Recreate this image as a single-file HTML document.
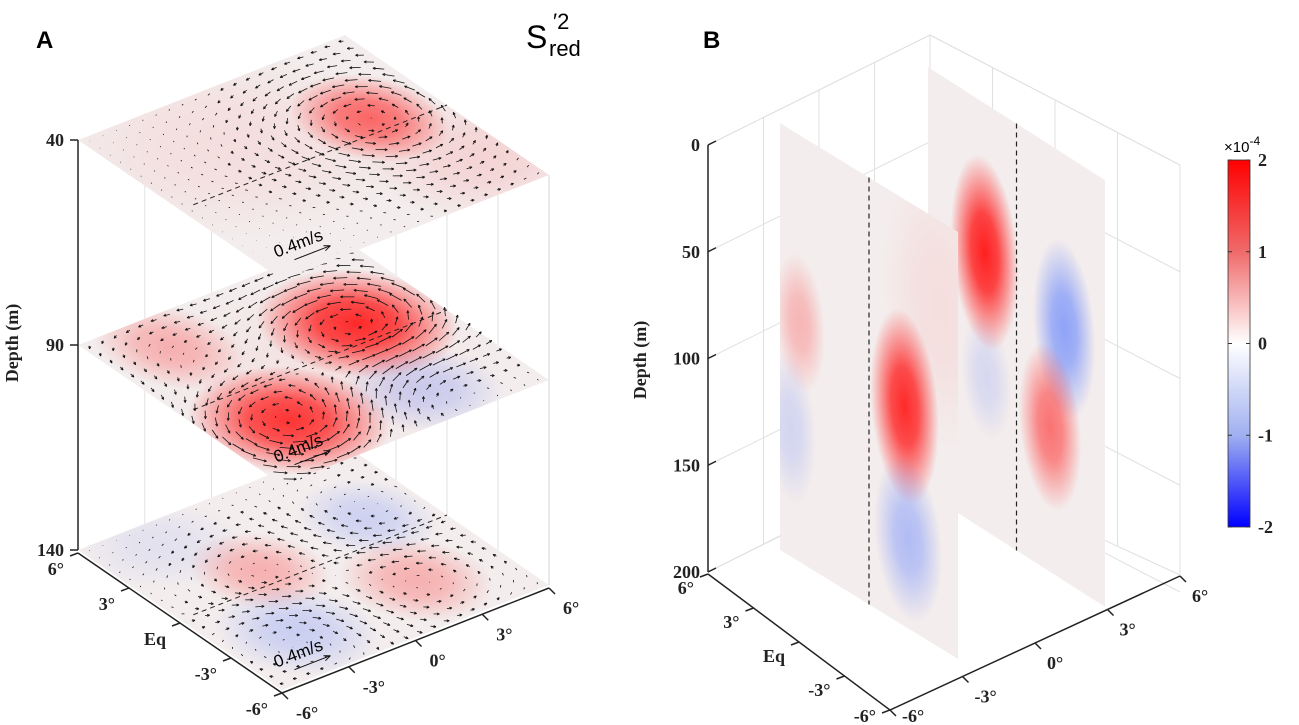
<!DOCTYPE html>
<html><head><meta charset="utf-8">
<style>
html,body{margin:0;padding:0;background:#fff;}
svg{display:block;font-family:"Liberation Serif",serif;}
.lab{font-weight:bold;font-size:18px;fill:#222;}
</style></head>
<body>
<svg id="fig" width="1299" height="725" viewBox="0 0 1299 725" xmlns="http://www.w3.org/2000/svg">
<defs id="defs">
  <linearGradient id="cbGrad" x1="0" y1="0" x2="0" y2="1">
    <stop offset="0" stop-color="#ff0000"/>
    <stop offset="0.25" stop-color="#f06a6a"/>
    <stop offset="0.5" stop-color="#ffffff"/>
    <stop offset="0.75" stop-color="#a0b0f0"/>
    <stop offset="1" stop-color="#0000ff"/>
  </linearGradient>
</defs>
<g id="panelA"></g>
<g id="panelB"></g>
<text x="36" y="48" font-family="Liberation Sans" font-weight="bold" font-size="24">A</text>
<text x="703" y="48" font-family="Liberation Sans" font-weight="bold" font-size="24">B</text>
<g font-family="Liberation Sans">
  <text x="526" y="48" font-size="32">S</text>
  <text x="553" y="29" font-size="22">′2</text>
  <text x="549" y="56" font-size="22">red</text>
</g>
</svg>
<script>
// ---------- data ----------
const depthTicksA = [40, 90, 140];
const latTicks = ["6°","3°","Eq","-3°","-6°"];
const lonTicks = ["-6°","-3°","0°","3°","6°"];
// blobs per layer: [latFrac, lonFrac, amplitude(-2..2 x1e-4), radiusLat, radiusLon]
const layer40 = [[0.42,0.77,1.3,0.15,0.12],[0.3,0.35,0.15,0.3,0.3],[0.8,0.9,0.25,0.2,0.2]];
const layer90 = [[0.40,0.74,1.9,0.18,0.16],[0.72,0.24,1.8,0.18,0.16],[0.17,0.21,0.6,0.15,0.11],[0.82,0.67,-0.5,0.14,0.13],[0.55,0.5,0.1,0.3,0.3]];
const layer140 = [[0.37,0.80,-0.45,0.13,0.11],[0.42,0.36,0.6,0.13,0.11],[0.74,0.70,0.6,0.14,0.12],[0.76,0.24,-0.5,0.15,0.13],[0.13,0.21,-0.2,0.14,0.14]];
const depthTicksB = [0, 50, 100, 150, 200];
// slice blobs: [latFrac, depth(m), amplitude, rLat, rDepth]
const slice1 = [[0.11,88,0.55,0.09,20],[0.06,140,-0.4,0.09,22],[0.70,97,1.9,0.12,28],[0.72,158,-0.8,0.12,24],[0.9,40,0.15,0.2,40]];
const slice2 = [[0.32,70,2.2,0.12,28],[0.77,82,-1.2,0.11,26],[0.69,132,1.2,0.11,24],[0.33,128,-0.35,0.09,18]];
const cbTicks = [2, 1, 0, -1, -2];

const NS = "http://www.w3.org/2000/svg";
const defs = document.getElementById('defs');
function mk(tag, attrs, parent){const e=document.createElementNS(NS,tag);for(const k in attrs)e.setAttribute(k,attrs[k]);if(parent)parent.appendChild(e);return e;}
let gid=0;
function color(a){ return a>=0 ? [255,25,25] : [70,110,255]; }
function blobGrad(a){
  const id='bg'+(gid++);
  const g=mk('radialGradient',{id:id},defs);
  const c=color(a); const op=Math.min(1,Math.abs(a)/2);
  const col=`rgb(${c[0]},${c[1]},${c[2]})`;
  mk('stop',{offset:'0','stop-color':col,'stop-opacity':(op*0.97).toFixed(3)},g);
  mk('stop',{offset:'0.4','stop-color':col,'stop-opacity':(op*0.8).toFixed(3)},g);
  mk('stop',{offset:'1','stop-color':col,'stop-opacity':'0'},g);
  return id;
}
const A = document.getElementById('panelA');
const B = document.getElementById('panelB');

// ---------- Panel A geometry ----------
const FL=[204,140], RF=[267,-105], Lx=78;
function yDepthA(d){ return 140 + (d-40)*(410/100); }
function ptA(u,w,d){ return [Lx+u*FL[0]+w*RF[0], yDepthA(d)+u*FL[1]+w*RF[1]]; }

[[0,0],[0,1],[1,1]].forEach((c,i)=>{
  const p1=ptA(c[0],c[1],40), p2=ptA(c[0],c[1],140);
  const l=mk('line',{x1:p1[0],y1:p1[1],x2:p2[0],y2:p2[1],stroke:'#d6d6d6','stroke-width':1},A);
  
  
});
[0.25,0.5,0.75].forEach(w=>{
  const p1=ptA(0,w,40), p2=ptA(0,w,140);
  mk('line',{x1:p1[0],y1:p1[1],x2:p2[0],y2:p2[1],stroke:'#e2e2e2','stroke-width':1},A);
  const q1=ptA(1-w,1,40), q2=ptA(1-w,1,140);
  mk('line',{x1:q1[0],y1:q1[1],x2:q2[0],y2:q2[1],stroke:'#e2e2e2','stroke-width':1},A);
});

function drawLayer(blobs, depth, name){
  const g=mk('g',{},A);
  
  
  const y0=yDepthA(depth);
  const inner=mk('g',{transform:`matrix(${FL[0]/100} ${FL[1]/100} ${RF[0]/100} ${RF[1]/100} ${Lx} ${y0})`},g);
  const cid='clip'+(gid++);
  const cp=mk('clipPath',{id:cid},defs); mk('rect',{x:0,y:0,width:100,height:100},cp);
  inner.setAttribute('clip-path',`url(#${cid})`);
  mk('rect',{x:0,y:0,width:100,height:100,fill:'#f3eded'},inner);
  blobs.forEach(b=>{
    const e=mk('ellipse',{cx:b[0]*100,cy:b[1]*100,rx:b[3]*100*1.8,ry:b[4]*100*1.8,fill:`url(#${blobGrad(b[2])})`},inner);
    
    
  });
  const e1=ptA(0.5,0.05,depth), e2=ptA(0.5,1,depth);
  mk('line',{x1:e1[0],y1:e1[1],x2:e2[0],y2:e2[1],stroke:'#222','stroke-width':1,'stroke-dasharray':'5,4'},g);
  const N=20;
  for(let i=0;i<N;i++)for(let j=0;j<N;j++){
    const u=(i+0.5)/N, w=(j+0.5)/N;
    let du=0, dw=0;
    blobs.forEach(b=>{
      const ru=u-b[0], rw=w-b[1];
      const s=Math.exp(-(ru*ru+rw*rw)/(0.09));
      du+= -b[2]*rw*s; dw+= b[2]*ru*s;
    });
    const sx=du*FL[0]+dw*RF[0], sy=du*FL[1]+dw*RF[1];
    const k=0.22;
    let vx=sx*k, vy=sy*k;
    const len=Math.hypot(vx,vy);
    if(len>14){vx*=14/len;vy*=14/len;}
    const p=ptA(u,w,depth);
    const x2=p[0]+vx, y2=p[1]+vy;
    mk('line',{x1:p[0],y1:p[1],x2:x2,y2:y2,stroke:'#111','stroke-width':0.8},g);
    const L2=Math.hypot(vx,vy);
    if(L2>3){
      const ux=vx/L2, uy=vy/L2, h=2.5;
      mk('path',{d:`M${x2},${y2} L${x2-h*ux+h*0.45*uy},${y2-h*uy-h*0.45*ux} M${x2},${y2} L${x2-h*ux-h*0.45*uy},${y2-h*uy+h*0.45*ux}`,stroke:'#111','stroke-width':0.8,fill:'none'},g);
    }
  }
  const r=ptA(0.93,0.1,depth);
  mk('line',{x1:r[0],y1:r[1],x2:r[0]+36,y2:r[1]-14,stroke:'#111','stroke-width':1},g);
  mk('path',{d:`M${r[0]+36},${r[1]-14} l-7,0 M${r[0]+36},${r[1]-14} l-5,5`,stroke:'#111','stroke-width':1,fill:'none'},g);
  const t=mk('text',{x:r[0]-18,y:r[1]-2,'font-family':'Liberation Sans','font-size':17,transform:`rotate(-21 ${r[0]-18} ${r[1]-2})`},g);
  t.textContent='0.4m/s';
  
  
}
drawLayer(layer140,140,'layer-140m');
drawLayer(layer90,90,'layer-90m');
drawLayer(layer40,40,'layer-40m');

mk('line',{x1:78,y1:140,x2:78,y2:yDepthA(140),stroke:'#222','stroke-width':1.5},A);
depthTicksA.forEach(d=>{
  const y=yDepthA(d);
  mk('line',{x1:70,y1:y,x2:78,y2:y,stroke:'#222','stroke-width':1.5},A);
  const t=mk('text',{x:64,y:y+6,'text-anchor':'end',class:'lab'},A);
  t.textContent=d;
  
  
});
const yt=mk('text',{x:18,y:343,'text-anchor':'middle',class:'lab',transform:'rotate(-90 18 343)'},A);
yt.textContent='Depth (m)';


(function(){
  const L=[Lx, yDepthA(140)+3], F=[L[0]+FL[0],L[1]+FL[1]], R=[F[0]+RF[0],F[1]+RF[1]];
  mk('path',{d:`M${L[0]},${L[1]} L${F[0]},${F[1]} L${R[0]},${R[1]}`,stroke:'#222','stroke-width':1.5,fill:'none'},A);
  latTicks.forEach((s,i)=>{
    const f=i/4, x=L[0]+f*FL[0], y=L[1]+f*FL[1];
    mk('line',{x1:x,y1:y,x2:x-8,y2:y+3,stroke:'#222','stroke-width':1.5},A);
    const t=mk('text',{x:x-14,y:Math.min(y+22,721),'text-anchor':'end',class:'lab'},A);
    t.textContent=s;
    
    
  });
  lonTicks.forEach((s,i)=>{
    const f=i/4, x=F[0]+f*RF[0], y=F[1]+f*RF[1];
    mk('line',{x1:x,y1:y,x2:x+6,y2:y+6,stroke:'#222','stroke-width':1.5},A);
    const t=mk('text',{x:x+14,y:Math.min(y+26,721),'text-anchor':'start',class:'lab'},A);
    t.textContent=s;
    
    
  });
})();

// ---------- Panel B ----------
const By0=145, BdPx=427/200;
function yB(d){return By0+d*BdPx;}
(function(){
  const g=mk('g',{stroke:'#e0e0e0','stroke-width':1,fill:'none'},B);
  
  
  mk('path',{d:`M708,145 L930,35 L930,460 M930,35 L1180,165 L1180,575 M930,460 L708,572 M930,460 L1180,575`},g);
  [0.25,0.5,0.75].forEach(f=>{
    mk('line',{x1:708+f*222,y1:145-f*110,x2:708+f*222,y2:572-f*112},g);
    mk('line',{x1:930+f*250,y1:35+f*130,x2:930+f*250,y2:460+f*115},g);
  });
  depthTicksB.forEach(d=>{
    const y=yB(d);
    mk('path',{d:`M708,${y} L930,${y-110} L1180,${y+20}`},g);
  });
})();
function drawSlice(blobs, TL, TR, name){
  const g=mk('g',{},B);
  
  
  const H=427;
  const inner=mk('g',{transform:`matrix(${(TR[0]-TL[0])/100} ${(TR[1]-TL[1])/100} 0 ${H/100} ${TL[0]} ${TL[1]})`},g);
  const cid='clip'+(gid++);
  const cp=mk('clipPath',{id:cid},defs); mk('rect',{x:0,y:0,width:100,height:100},cp);
  inner.setAttribute('clip-path',`url(#${cid})`);
  mk('rect',{x:0,y:0,width:100,height:100,fill:'#f4eded'},inner);
  blobs.forEach(b=>{
    const e=mk('ellipse',{cx:b[0]*100,cy:b[1]/2,rx:b[3]*100*1.6,ry:b[4]/2*1.6,fill:`url(#${blobGrad(b[2])})`},inner);
    
    
  });
  const xm=TL[0]+0.5*(TR[0]-TL[0]), ym=TL[1]+0.5*(TR[1]-TL[1]);
  mk('line',{x1:xm,y1:ym,x2:xm,y2:ym+H,stroke:'#222','stroke-width':1.2,'stroke-dasharray':'5,4'},g);
}
drawSlice(slice2,[928,67],[1105,180],'slice-east');
drawSlice(slice1,[780,123],[958,232],'slice-west');

mk('line',{x1:708,y1:145,x2:708,y2:572,stroke:'#222','stroke-width':1.5},B);
depthTicksB.forEach(d=>{
  const y=yB(d);
  mk('line',{x1:708,y1:y,x2:716,y2:y-4,stroke:'#222','stroke-width':1.5},B);
  const t=mk('text',{x:700,y:y+6,'text-anchor':'end',class:'lab'},B);
  t.textContent=d;
  
  
});
const yb=mk('text',{x:646,y:360,'text-anchor':'middle',class:'lab',transform:'rotate(-90 646 360)'},B);
yb.textContent='Depth (m)';


(function(){
  const L=[708,574], F=[890,710], R=[1180,576];
  mk('path',{d:`M${L[0]},${L[1]} L${F[0]},${F[1]} L${R[0]},${R[1]}`,stroke:'#222','stroke-width':1.5,fill:'none'},B);
  latTicks.forEach((s,i)=>{
    const f=i/4, x=L[0]+f*(F[0]-L[0]), y=L[1]+f*(F[1]-L[1]);
    mk('line',{x1:x,y1:y,x2:x-8,y2:y+3,stroke:'#222','stroke-width':1.5},B);
    const t=mk('text',{x:x-14,y:Math.min(y+20,722),'text-anchor':'end',class:'lab'},B);
    t.textContent=s;
    
    
  });
  lonTicks.forEach((s,i)=>{
    const f=i/4, x=F[0]+f*(R[0]-F[0]), y=F[1]+f*(R[1]-F[1]);
    mk('line',{x1:x,y1:y,x2:x+6,y2:y+6,stroke:'#222','stroke-width':1.5},B);
    const t=mk('text',{x:x+12,y:Math.min(y+26,722),'text-anchor':'start',class:'lab'},B);
    t.textContent=s;
    
    
  });
})();
(function(){
  const g=mk('g',{},B);
  
  
  const x=1228,y0=160,y1=527,w=22;
  mk('rect',{x:x,y:y0,width:w,height:y1-y0,fill:'url(#cbGrad)',stroke:'#333','stroke-width':0.8},g);
  cbTicks.forEach(v=>{
    const y=y0+(2-v)/4*(y1-y0);
    mk('line',{x1:x,y1:y,x2:x+4,y2:y,stroke:'#333'},g);
    mk('line',{x1:x+w-4,y1:y,x2:x+w,y2:y,stroke:'#333'},g);
    const t=mk('text',{x:x+w+8,y:y+6,class:'lab'},g);
    t.textContent=v;
    
    
  });
  const t=mk('text',{x:1224,y:152,'font-family':'Liberation Sans','font-size':15},g);
  t.innerHTML='×10<tspan dy="-7" font-size="12">-4</tspan>';
  
  
})();
</script>
</body></html>
